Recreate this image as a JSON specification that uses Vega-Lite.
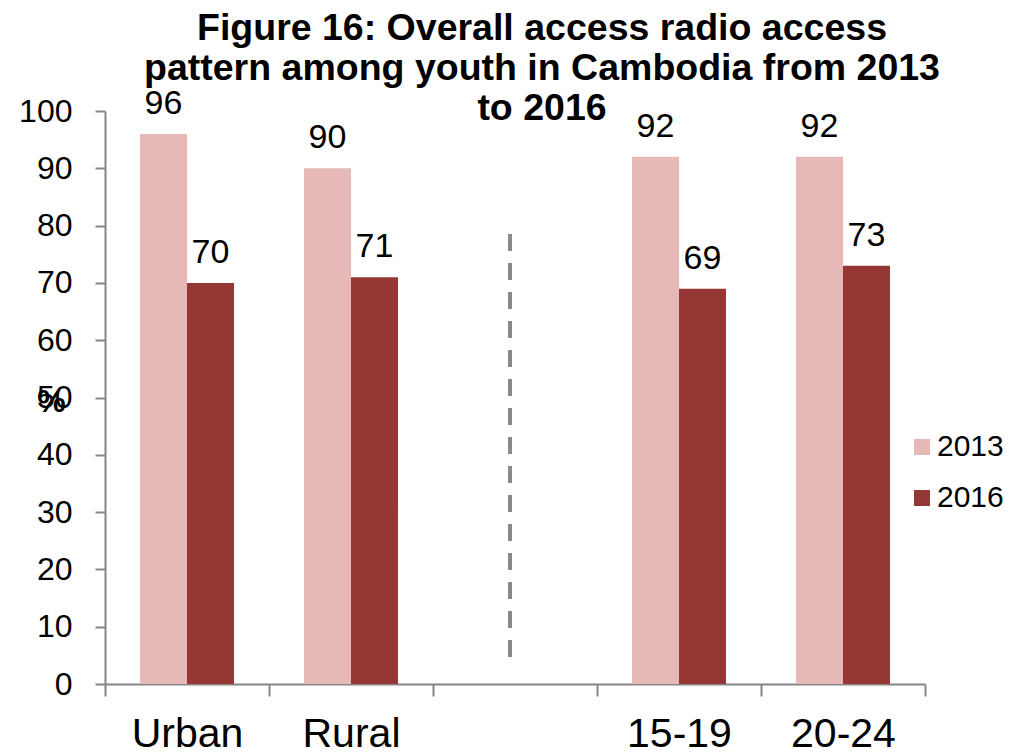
{
  "$schema": "https://vega.github.io/schema/vega-lite/v6.json",
  "width": 820,
  "height": 573,
  "autosize": {"type": "none"},
  "padding": {"left": 105, "top": 111, "right": 97, "bottom": 69},
  "background": "white",
  "config": {
    "font": "Liberation Sans",
    "view": {"stroke": null}
  },
  "title": {
    "text": ["Figure 16: Overall access radio access", "pattern among youth in Cambodia from 2013", "to 2016"],
    "fontSize": 37.5,
    "fontWeight": "bold",
    "lineHeight": 40,
    "color": "black",
    "anchor": "middle",
    "frame": "group",
    "dx": 27,
    "dy": 41,
    "offset": 0
  },
  "datasets": {
    "bars": [
      {"group": "Urban", "year": "2013", "value": 96},
      {"group": "Urban", "year": "2016", "value": 70},
      {"group": "Rural", "year": "2013", "value": 90},
      {"group": "Rural", "year": "2016", "value": 71},
      {"group": "15-19", "year": "2013", "value": 92},
      {"group": "15-19", "year": "2016", "value": 69},
      {"group": "20-24", "year": "2013", "value": 92},
      {"group": "20-24", "year": "2016", "value": 73}
    ],
    "divider": [
      {"group": "", "lo": 4.7, "hi": 78.7}
    ]
  },
  "layer": [
    {
      "data": {"name": "bars"},
      "mark": {"type": "bar"},
      "encoding": {
        "x": {
          "field": "group",
          "type": "nominal",
          "sort": null,
          "scale": {"domain": ["Urban", "Rural", "", "15-19", "20-24"], "paddingInner": 0, "paddingOuter": 0},
          "axis": {
            "title": null,
            "labelAngle": 0,
            "labelFontSize": 41,
            "labelColor": "black",
            "labelPadding": 18,
            "tickBand": "extent",
            "tickSize": 12,
            "tickWidth": 2,
            "tickColor": "#868686",
            "domainColor": "#868686",
            "domainWidth": 2
          }
        },
        "xOffset": {
          "field": "year",
          "type": "nominal",
          "scale": {"paddingOuter": 0.745, "paddingInner": 0}
        },
        "y": {
          "field": "value",
          "type": "quantitative",
          "scale": {"domain": [0, 100], "nice": false},
          "axis": {
            "values": [0, 10, 20, 30, 40, 50, 60, 70, 80, 90, 100],
            "grid": false,
            "title": "%",
            "titleFontSize": 32,
            "titleFontWeight": "bold",
            "titleColor": "black",
            "titleAngle": 0,
            "titleX": -54,
            "titleY": 290,
            "titleAlign": "center",
            "titleBaseline": "middle",
            "labelFontSize": 32,
            "labelColor": "black",
            "labelPadding": 23,
            "tickSize": 10,
            "tickWidth": 2,
            "tickColor": "#868686",
            "domainColor": "#868686",
            "domainWidth": 2
          }
        },
        "color": {
          "field": "year",
          "type": "nominal",
          "scale": {"domain": ["2013", "2016"], "range": ["#E6B9B8", "#953735"]},
          "legend": {
            "title": null,
            "orient": "none",
            "legendX": 802,
            "legendY": 321,
            "symbolType": "square",
            "symbolSize": 256,
            "symbolStrokeWidth": 0,
            "labelFontSize": 30,
            "labelColor": "black",
            "labelOffset": 0,
            "rowPadding": 21
          }
        }
      }
    },
    {
      "data": {"name": "bars"},
      "mark": {"type": "text", "baseline": "alphabetic", "dy": -20, "fontSize": 34, "color": "black"},
      "encoding": {
        "x": {"field": "group", "type": "nominal", "sort": null},
        "xOffset": {"field": "year", "type": "nominal"},
        "y": {"field": "value", "type": "quantitative"},
        "text": {"field": "value", "type": "quantitative"}
      }
    },
    {
      "data": {"name": "divider"},
      "mark": {"type": "rule", "color": "#898989", "strokeWidth": 4, "strokeDash": [17, 12], "xOffset": -5},
      "encoding": {
        "x": {"field": "group", "type": "nominal", "sort": null},
        "y": {"field": "lo", "type": "quantitative"},
        "y2": {"field": "hi"}
      }
    }
  ]
}
